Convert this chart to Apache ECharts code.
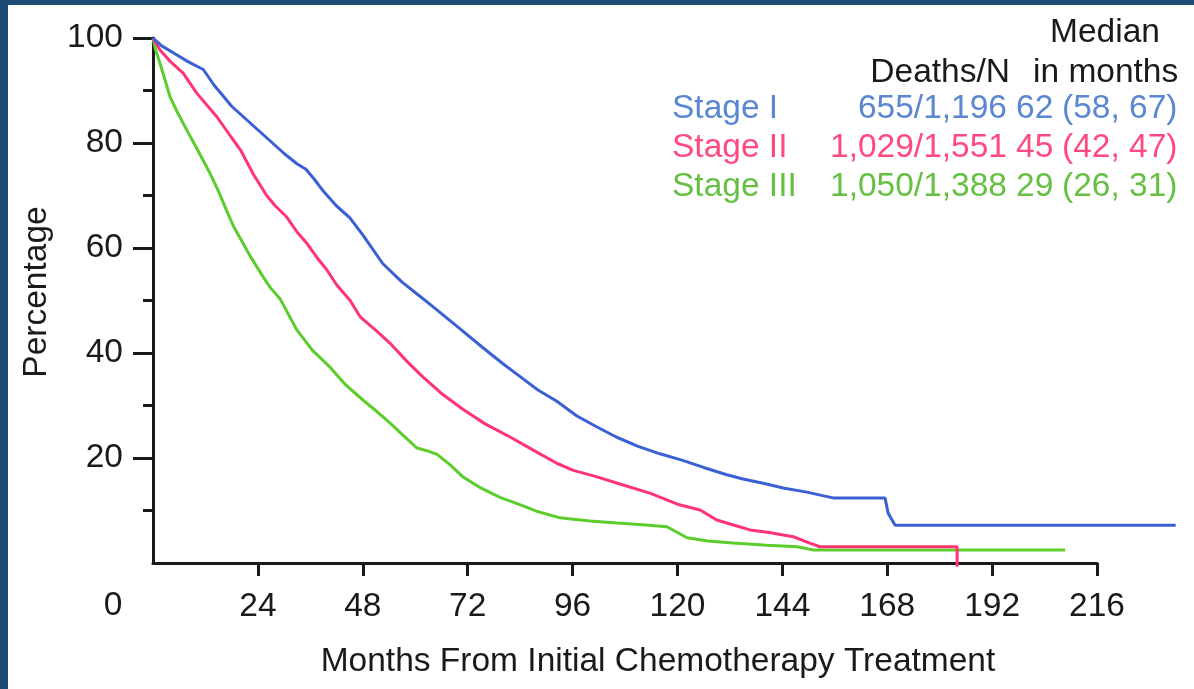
<!DOCTYPE html>
<html>
<head>
<meta charset="utf-8">
<script src="https://cdn.jsdelivr.net/npm/echarts@6/dist/echarts.min.js"></script>
<style>
html,body{margin:0;padding:0;background:#ffffff;}
#chart{width:1194px;height:689px;}
</style>
</head>
<body>
<div id="chart"></div>
<script>
// ---- data ----
const stageNames = ['Stage I', 'Stage II', 'Stage III'];
const deathsN = ['655/1,196', '1,029/1,551', '1,050/1,388'];
const medians = ['62', '45', '29'];
const medianCI = ['(58, 67)', '(42, 47)', '(26, 31)'];

const xTicks = [24, 48, 72, 96, 120, 144, 168, 192, 216];
const yTicks = [20, 40, 60, 80, 100];
const yMinorTicks = [10, 30, 50, 70, 90];

const stage1Months = [0, 2, 5, 8, 11.5, 14, 18, 22, 26, 30, 33, 35, 37, 39, 42, 45, 48, 52.6, 57, 62, 66, 70, 75.5, 80, 84, 88, 92.4, 97, 101.6, 106, 111, 116, 121, 126, 131.3, 135, 139.6, 144.2, 149.6, 155.6, 167.5, 168.2, 169.8, 234];
const stage1Pct    = [100, 98.5, 97, 95.5, 94, 91, 87, 84, 81, 78, 76, 75, 73, 70.8, 68, 65.8, 62.5, 57, 53.5, 50.2, 47.5, 44.8, 41, 38, 35.5, 33, 30.8, 28, 25.9, 24, 22.2, 20.8, 19.6, 18.2, 16.8, 16, 15.2, 14.3, 13.5, 12.4, 12.4, 9.5, 7.2, 7.2];

const stage2Months = [0, 1.6, 4, 6.9, 10, 14.6, 18, 20, 23, 26, 28, 30.6, 33, 35.2, 37.5, 39.8, 42, 45.1, 47.4, 51, 54.2, 58, 61.8, 66, 70.9, 76, 81.7, 87, 92.4, 96, 101.6, 107, 113.7, 120, 125.2, 129, 133, 136.6, 141, 146.5, 150.3, 152.6, 184, 184];
const stage2Pct    = [100, 97.7, 95.5, 93.3, 89.5, 85, 81, 78.7, 74, 70, 68, 65.9, 63, 60.9, 58.2, 55.8, 53, 50, 46.9, 44.3, 41.9, 38.5, 35.4, 32.3, 29.3, 26.5, 24, 21.5, 19, 17.7, 16.4, 15, 13.3, 11.2, 10.1, 8.2, 7.2, 6.3, 5.8, 5, 3.8, 3.1, 3.1, -0.7];

const stage3Months = [0, 0.5, 1.6, 3.9, 5.5, 7.7, 10, 13, 15, 16.8, 18.5, 20.6, 22.2, 25.2, 26.8, 29.1, 32.9, 36.5, 40.5, 44, 48.1, 51, 54.2, 57, 60.4, 63, 65, 68, 70.9, 75, 79.4, 85, 88, 93.1, 100, 106.2, 112, 117.6, 122.2, 127, 132.7, 140.5, 147.4, 151, 208.7];
const stage3Pct    = [100, 98, 95.2, 88.8, 86, 82.5, 79, 74.3, 70.8, 67.2, 64, 60.9, 58.5, 54.5, 52.5, 50.3, 44.4, 40.5, 37.3, 34, 31, 29, 26.7, 24.5, 21.9, 21.3, 20.7, 18.7, 16.4, 14.3, 12.5, 10.8, 9.8, 8.6, 8, 7.6, 7.3, 6.9, 4.8, 4.2, 3.8, 3.4, 3.1, 2.5, 2.5];

// ---- styling ----
const lineColors = ['#3a60d4', '#ff3474', '#5ccd2c'];
const textColors = ['#5a86d2', '#ff4a80', '#66c043'];
const FONT = '"Liberation Sans", Arial, Helvetica, sans-serif';
const FS = 33.5;
const ink = '#1a1a1a';

function pairs(xs, ys) { return xs.map((x, i) => [x, ys[i]]); }
const seriesData = [pairs(stage1Months, stage1Pct), pairs(stage2Months, stage2Pct), pairs(stage3Months, stage3Pct)];

// plot geometry: visible axis 0..216 months; curves may run past 216 (to 234)
const axisMax = 216, dataMax = 234;
const gLeft = 153, gTop = 38, gBottom = 126, gRight = 97;
const gWidth = 1194 - gLeft - gRight;
const dataWidth = gWidth * dataMax / axisMax;

const chart = echarts.init(document.getElementById('chart'), null, { renderer: 'canvas' });
const F = FS + 'px ' + FONT;

const graphics = [
  { type: 'rect', shape: { x: 0, y: 0, width: 8, height: 689 }, style: { fill: '#1e4a73' }, z: 100 },
  { type: 'rect', shape: { x: 0, y: 0, width: 1194, height: 5 }, style: { fill: '#1e4a73' }, z: 100 },
  { type: 'text', x: 113, y: 606, style: { text: '0', font: F, fill: ink, align: 'center', verticalAlign: 'middle' } },
  { type: 'text', x: 37, y: 292, rotation: Math.PI / 2, style: { text: 'Percentage', font: F, fill: ink, align: 'center', verticalAlign: 'middle' } },
  { type: 'text', x: 658, y: 662, style: { text: 'Months From Initial Chemotherapy Treatment', font: F, fill: ink, align: 'center', verticalAlign: 'middle' } },
  { type: 'text', x: 1105, y: 33, style: { text: 'Median', font: F, fill: ink, align: 'center', verticalAlign: 'middle' } },
  { type: 'text', x: 1010, y: 73, style: { text: 'Deaths/N', font: F, fill: ink, align: 'right', verticalAlign: 'middle' } },
  { type: 'text', x: 1033, y: 73, style: { text: 'in months', font: F, fill: ink, align: 'left', verticalAlign: 'middle' } }
];
const rowY = [109, 148, 187];
stageNames.forEach((name, i) => {
  graphics.push({ type: 'text', x: 672, y: rowY[i], style: { text: name, font: F, fill: textColors[i], align: 'left', verticalAlign: 'middle' } });
  graphics.push({ type: 'text', x: 1007, y: rowY[i], style: { text: deathsN[i], font: F, fill: textColors[i], align: 'right', verticalAlign: 'middle' } });
  graphics.push({ type: 'text', x: 1016, y: rowY[i], style: { text: medians[i], font: F, fill: textColors[i], align: 'left', verticalAlign: 'middle' } });
  graphics.push({ type: 'text', x: 1062, y: rowY[i], style: { text: medianCI[i], font: F, fill: textColors[i], align: 'left', verticalAlign: 'middle' } });
});

const option = {
  backgroundColor: '#ffffff',
  animation: false,
  grid: [
    { left: gLeft, top: gTop, right: gRight, bottom: gBottom, containLabel: false },
    { left: gLeft, top: gTop, width: dataWidth, bottom: gBottom, containLabel: false }
  ],
  xAxis: [{
    gridIndex: 0, type: 'value', min: 0, max: axisMax,
    splitLine: { show: false },
    axisLine: { show: true, lineStyle: { color: ink, width: 3 } },
    axisTick: { show: true, customValues: xTicks, length: 13, lineStyle: { color: ink, width: 3 } },
    axisLabel: { show: true, customValues: xTicks, margin: 27, fontSize: FS, fontFamily: FONT, color: ink }
  }, {
    gridIndex: 1, type: 'value', min: 0, max: dataMax, show: false
  }],
  yAxis: [{
    gridIndex: 0, type: 'value', min: 0, max: 100, interval: 20,
    splitLine: { show: false },
    axisLine: { show: true, lineStyle: { color: ink, width: 3 } },
    axisTick: { show: true, customValues: yTicks, length: 20, lineStyle: { color: ink, width: 3 } },
    axisLabel: { show: true, customValues: yTicks, margin: 30, fontSize: FS, fontFamily: FONT, color: ink }
  }, {
    gridIndex: 0, type: 'value', min: 0, max: 100, position: 'left', offset: 0,
    splitLine: { show: false },
    axisLine: { show: false },
    axisTick: { show: true, customValues: yMinorTicks, length: 10, lineStyle: { color: ink, width: 3 } },
    axisLabel: { show: false }
  }, {
    gridIndex: 1, type: 'value', min: 0, max: 100, show: false
  }],
  graphic: graphics,
  series: seriesData.map((d, i) => ({
    type: 'line',
    name: stageNames[i],
    data: d,
    xAxisIndex: 1, yAxisIndex: 2,
    showSymbol: false, symbol: 'none',
    clip: false,
    lineStyle: { color: lineColors[i], width: 3 },
    z: 5 - i
  }))
};
chart.setOption(option);
</script>
</body>
</html>
